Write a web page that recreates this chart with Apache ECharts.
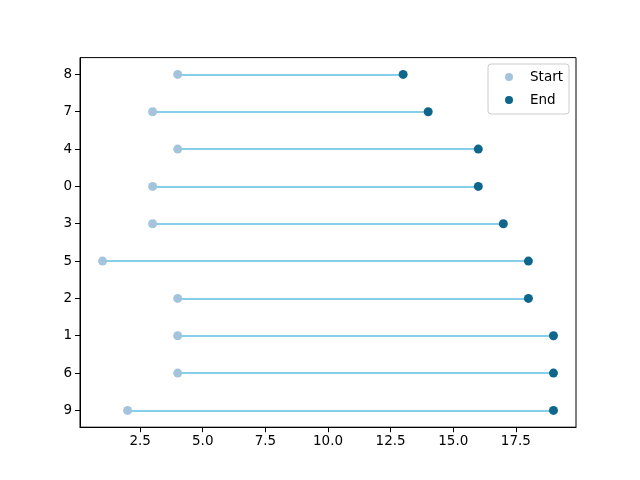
<!DOCTYPE html>
<html>
<head>
<meta charset="utf-8">
<script src="https://cdn.jsdelivr.net/npm/echarts@6/dist/echarts.min.js"></script>
<style>
  html, body { margin: 0; padding: 0; background: #fff; }
  #main { width: 640px; height: 480px; }
</style>
</head>
<body>
<div id="main"></div>
<script>
// rows from bottom to top
const labels = ["9", "6", "1", "2", "5", "3", "0", "4", "7", "8"];
const startValues = [2, 4, 4, 4, 1, 3, 3, 4, 3, 4];
const endValues = [19, 19, 19, 18, 18, 17, 16, 16, 14, 13];
const xTicks = [2.5, 5.0, 7.5, 10.0, 12.5, 15.0, 17.5];

const rowIdx = labels.map((_, i) => i);
const font = "DejaVu Sans";

const chart = echarts.init(document.getElementById("main"));
chart.setOption({
  animation: false,
  backgroundColor: "#fff",
  grid: {
    left: 80, right: 64, top: 57.6, bottom: 52.8,
    show: true, borderColor: "#000", borderWidth: 1, containLabel: false
  },
  xAxis: {
    type: "value", min: 0.1, max: 19.9,
    splitLine: { show: false },
    axisLine: { show: true, onZero: false, lineStyle: { color: "#000", width: 1 } },
    axisTick: { show: true, length: 5, customValues: xTicks, lineStyle: { color: "#000" } },
    axisLabel: {
      customValues: xTicks, color: "#000", fontFamily: font, fontSize: 13.5, margin: 7,
      formatter: (v) => v.toFixed(1)
    }
  },
  yAxis: {
    type: "value", min: -0.45, max: 9.45,
    splitLine: { show: false },
    axisLine: { show: true, onZero: false, lineStyle: { color: "#000", width: 1 } },
    axisTick: { show: true, length: 5, customValues: rowIdx, lineStyle: { color: "#000" } },
    axisLabel: {
      customValues: rowIdx, color: "#000", fontFamily: font, fontSize: 13.5, margin: 8,
      formatter: (v) => labels[Math.round(v)]
    }
  },
  legend: {
    orient: "vertical", right: 71, top: 64,
    padding: [6, 6, 7, 17],
    itemWidth: 8, itemHeight: 8, itemGap: 9,
    borderColor: "#cccccc", borderWidth: 1, borderRadius: 3,
    backgroundColor: "rgba(255,255,255,0.8)",
    textStyle: { color: "#000", fontFamily: font, fontSize: 13.5, padding: [0, 0, 0, 12] },
    data: [{ name: "Start", icon: "circle" }, { name: "End", icon: "circle" }]
  },
  series: [
    {
      type: "lines", coordinateSystem: "cartesian2d", silent: true, z: 1,
      lineStyle: { color: "#87ceeb", width: 2, opacity: 1 },
      data: rowIdx.map((i) => ({ coords: [[startValues[i], i], [endValues[i], i]] }))
    },
    {
      name: "Start", type: "scatter", symbol: "circle", symbolSize: 9, z: 2,
      itemStyle: { color: "#a3c4dc", opacity: 1 },
      data: rowIdx.map((i) => [startValues[i], i])
    },
    {
      name: "End", type: "scatter", symbol: "circle", symbolSize: 9, z: 3,
      itemStyle: { color: "#0e668b", opacity: 1 },
      data: rowIdx.map((i) => [endValues[i], i])
    }
  ]
});
</script>
</body>
</html>
